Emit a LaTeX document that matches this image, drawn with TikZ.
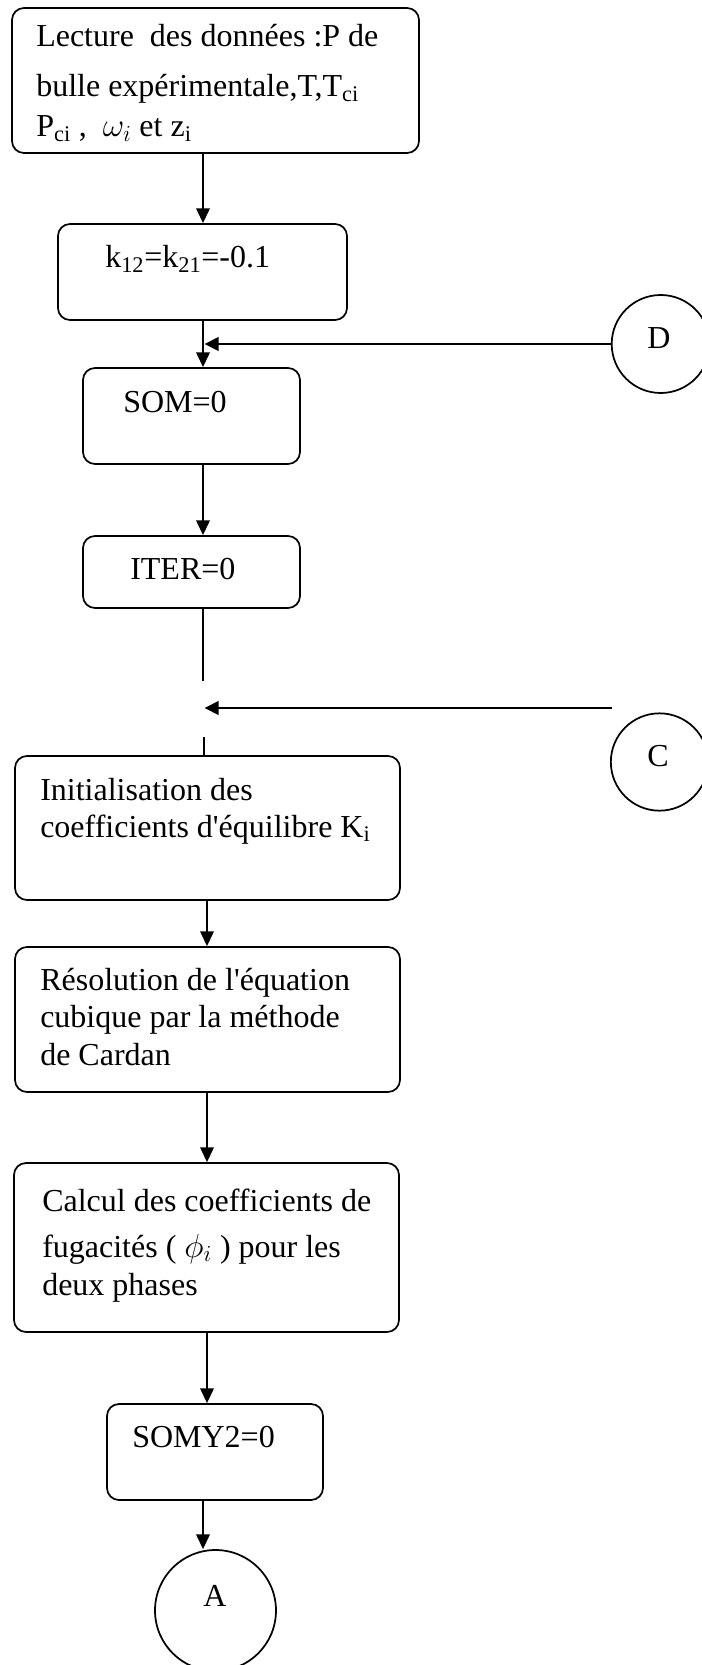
\documentclass[tikz,border=0pt]{standalone}
\usepackage{fontspec}
\setmainfont{Liberation Serif}
\usetikzlibrary{arrows.meta,fit}
\tikzset{
  box/.style={draw, line width=1.3pt, rounded corners=9pt, inner sep=0pt},
  circ/.style={draw, circle, line width=1.3pt, inner sep=0pt},
  txt/.style={anchor=base west, inner sep=0pt, font=\fontsize{24}{28}\selectfont},
  ctxt/.style={anchor=base, inner sep=0pt, font=\fontsize{24}{28}\selectfont},
  arr/.style={line width=1.6pt, -{Triangle[length=11pt,width=10pt]}},
  harr/.style={line width=2pt, -{Triangle[length=10.5pt,width=10pt]}},
  link/.style={line width=1.6pt}
}
\begin{document}
\begin{tikzpicture}[x=0.75pt,y=-0.75pt]
\useasboundingbox (0,0) rectangle (701,1665);

% process boxes
\node[box, fit={(12,8)(419,153)}] (lect) {};
\node[box, fit={(58,224)(347,320)}] (kij) {};
\node[box, fit={(83,368)(300,464)}] (som) {};
\node[box, fit={(83,536)(300,608)}] (iter) {};
\node[box, fit={(15,756)(400,900)}] (init) {};
\node[box, fit={(15,947)(400,1092)}] (res) {};
\node[box, fit={(14,1163)(399,1332)}] (calc) {};
\node[box, fit={(107,1404)(323,1500)}] (somy) {};

% connector circles
\node[circ, minimum size=73.5pt] (D) at (660.7,344) {};
\node[circ, minimum size=73pt] (C) at (659.5,762) {};
\node[circ, minimum size=90.75pt] (A) at (215.5,1610.5) {};

% texts
\node[txt] (lect1) at (36,47) {Lecture\ \ des données :P de};
\node[txt] (lect2) at (36,97) {bulle expérimentale,T,T\textsubscript{ci}};
\node[txt] (lect3) at (36,137) {P\textsubscript{ci} ,\ \ $\omega_i$ et z\textsubscript{i}};
\node[txt] (ktxt) at (105,268) {k\textsubscript{12}=k\textsubscript{21}=-0.1};
\node[txt] (somtxt) at (123,412) {SOM=0};
\node[txt] (itertxt) at (130,579) {ITER=0};
\node[txt] (init1) at (40,800) {Initialisation des};
\node[txt] (init2) at (40,837) {coefficients d\textquotesingle équilibre K\textsubscript{i}};
\node[txt] (res1) at (40,990) {Résolution de l\textquotesingle équation};
\node[txt] (res2) at (40,1027) {cubique par la méthode};
\node[txt] (res3) at (40,1065) {de Cardan};
\node[txt] (calc1) at (42,1211) {Calcul des coefficients de};
\node[txt] (calc2) at (42,1257) {fugacités ( $\phi_i$ ) pour les};
\node[txt] (calc3) at (42,1295) {deux phases};
\node[txt] (somytxt) at (132,1447) {SOMY2=0};
\node[ctxt] (Dtxt) at (659,349) {D};
\node[ctxt] (Ctxt) at (658,766) {C};
\node[ctxt] (Atxt) at (215,1606) {A};

% columns and junction points
\coordinate (up) at (203,0);
\coordinate (low) at (207,0);
\coordinate (jd) at (204.5,344);
\coordinate (jtop) at (203,681);
\coordinate (jc) at (204.5,708);
\coordinate (cfree) at (612,708);
\coordinate (jbot) at (204,737);

% main flow
\draw[arr] (lect.south -| up) -- (kij.north -| up);
\draw[arr] (kij.south -| up) -- (som.north -| up);
\draw[harr] (D.west) -- (jd);
\draw[arr] (som.south -| up) -- (iter.north -| up);
\draw[link] (iter.south -| up) -- (jtop);
\draw[harr] (cfree) -- (jc);
\draw[link] (jbot) -- (init.north -| jbot);
\draw[arr] (init.south -| low) -- (res.north -| low);
\draw[arr] (res.south -| low) -- (calc.north -| low);
\draw[arr] (calc.south -| low) -- (somy.north -| low);
\draw[arr] (somy.south -| up) -- (A.north -| up);
\end{tikzpicture}
\end{document}
